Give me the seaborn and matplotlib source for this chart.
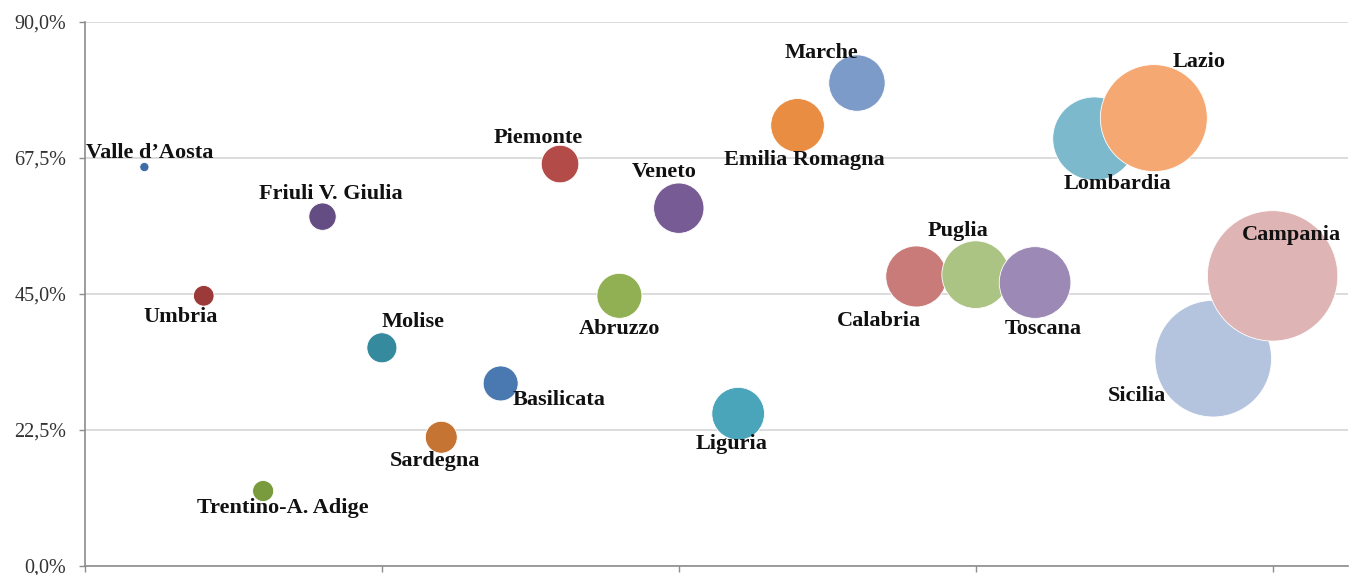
import matplotlib
matplotlib.use("Agg")
import matplotlib.pyplot as plt
import pandas as pd
import seaborn as sns
from matplotlib.ticker import FuncFormatter, MultipleLocator

# dati
regioni = ["Valle d’Aosta", "Umbria", "Trentino-A. Adige", "Friuli V. Giulia", "Molise",
           "Sardegna", "Basilicata", "Piemonte", "Abruzzo", "Veneto",
           "Liguria", "Emilia Romagna", "Marche", "Calabria", "Puglia",
           "Toscana", "Lombardia", "Lazio", "Sicilia", "Campania"]
posizione = list(range(1, 21))
quota = [66.0, 44.7, 12.4, 57.8, 36.1, 21.3, 30.2, 66.5, 44.7, 59.2,
         25.2, 72.9, 79.9, 47.9, 48.2, 46.9, 70.7, 74.1, 34.3, 48.0]
peso = [0.5, 2.5, 2.6, 4.4, 5.3, 6.0, 7.2, 8.3, 11.9, 14.9,
        16.3, 16.9, 18.7, 21.9, 26.9, 30.2, 40.9, 67.3, 80.0, 100.0]

# colori stile Excel (uno per bolla)
colori = ["#3F6CA6", "#9B3A38", "#7A9A3E", "#634D82", "#368A9E",
          "#C57434", "#4A78B0", "#B34B48", "#91B053", "#775B95",
          "#4AA4BA", "#E98D43", "#7D9BC8", "#C97B7A", "#ACC483",
          "#9C89B5", "#7DB9CD", "#F6A873", "#B4C4DE", "#DFB4B4"]

# spostamento etichette in pixel (dx, dy verso il basso)
etich_dx = [5, -23, 20, 8, 31, -6, 58, -22, 0, -15, -7, 7, -35, -37, -18, 8, 23, 45, -76, 19]
etich_dy = [-14, 21, 17, -23, -26, 24, 17, -26, 33, -36, 30, 35, -30, 45, -44, 46, 45, -56, 37, -41]

df = pd.DataFrame({"regione": regioni, "pos": posizione, "quota": quota, "peso": peso})

sns.set_style("white")
plt.rcParams["font.family"] = ["Liberation Serif", "DejaVu Serif"]

W, H = 1349, 575
fig = plt.figure(figsize=(W / 100, H / 100), dpi=100)
ax = fig.add_axes([85 / W, 9 / H, (1348 - 85) / W, (566 - 22) / H])

# area della bolla proporzionale al peso
sns.scatterplot(data=df, x="pos", y="quota", hue="regione", hue_order=regioni,
                palette=colori, size="peso", sizes=(0, 8815), size_norm=(0, 100),
                legend=False, edgecolor="white", linewidth=0.6, alpha=1, ax=ax, zorder=3)

for i, nome in enumerate(regioni):
    ax.annotate(nome, (posizione[i], quota[i]), xytext=(etich_dx[i], -etich_dy[i]),
                textcoords="offset pixels", ha="center", va="center",
                fontsize=16, fontweight="bold", color="#111111", zorder=4)

ax.set_xlim(0, 21.27)
ax.set_ylim(0, 90)
ax.yaxis.set_major_locator(MultipleLocator(22.5))
ax.xaxis.set_major_locator(MultipleLocator(5))
ax.yaxis.set_major_formatter(FuncFormatter(lambda v, p: f"{v:.1f}%".replace(".", ",")))
ax.set_xticklabels([])
ax.set_xlabel("")
ax.set_ylabel("")

ax.grid(axis="y", color="#D9D9D9", linewidth=1.3, zorder=0)
ax.grid(axis="x", visible=False)
for s in ["top", "right"]:
    ax.spines[s].set_visible(False)
for s in ["left", "bottom"]:
    ax.spines[s].set_color("#8C8C8C")
    ax.spines[s].set_linewidth(1.2)
ax.tick_params(axis="y", which="major", left=True, length=4.5, width=1, color="#8C8C8C",
               pad=9, labelsize=14.5, labelcolor="#333333")
ax.tick_params(axis="x", which="major", bottom=True, length=4.5, width=1, color="#8C8C8C")
for lab in ax.get_yticklabels():
    lab.set_clip_on(False)

fig.savefig("out.png", dpi=100)
